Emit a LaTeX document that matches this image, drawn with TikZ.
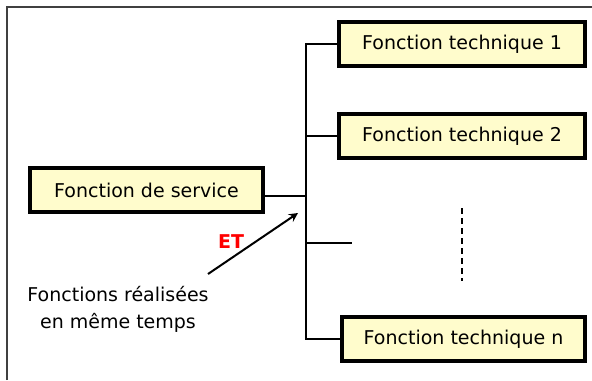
\documentclass[tikz,border=0pt]{standalone}
\usepackage{fontspec}
\setmainfont{DejaVu Sans}

\begin{document}
\begin{tikzpicture}[x=0.5pt,y=-0.5pt]
	\tikzset{BoiteStyle/.style =
	{draw,
		fill = yellow!20,
		line width = 2pt,
		minimum width = 123pt,
		minimum height = 22pt,
		inner sep = 0pt,
		font = \fontsize{9.5}{11.5}\selectfont},
	LienStyle/.style = {line width = 1pt},
	TexteStyle/.style = {font = \fontsize{9.5}{13.5}\selectfont, align = center}}
\useasboundingbox (0,0) rectangle (592,380);
\draw[line width = 1pt, black!75] (7,380) -- (7,7) -- (592,7);

\node[BoiteStyle, minimum width = 116.5pt] (FS) at (146.5,190) {Fonction de service};
\node[BoiteStyle] (FT1) at (462,44) {Fonction technique 1};
\node[BoiteStyle] (FT2) at (462,136) {Fonction technique 2};
\node[BoiteStyle, minimum width = 121.5pt] (FTn) at (463.5,339) {Fonction technique n};

\coordinate (haut) at (306,44);
\coordinate (bas) at (306,339);
\coordinate (jonction) at (306,196);
\coordinate (branche) at (306,243);
\coordinate (bout) at (352,243);

\draw[LienStyle] (FT1.west) -- (haut) -- (bas) -- (FTn.west);
\draw[LienStyle] (FS.east |- jonction) -- (jonction);
\draw[LienStyle] (haut |- FT2.west) -- (FT2.west);
\draw[LienStyle] (branche) -- (bout);
%\draw[LienStyle] (bout) -- (FT3.west);

\coordinate (pointA) at (462,208);
\coordinate (pointB) at (462,281);
\draw[LienStyle, dash pattern = on 3pt off 2pt] (pointA) -- (pointB);

\node[TexteStyle] (note) at (118,309) {Fonctions réalisées\\en même temps};
\coordinate (depart) at (208,274);
\coordinate (fin) at (298,213);
\draw[LienStyle, -stealth] (depart) -- (fin);
\node[font = \fontsize{9.5}{11.5}\bfseries, text = red] (ET) at (231,242) {ET};

\end{tikzpicture}
\end{document}
